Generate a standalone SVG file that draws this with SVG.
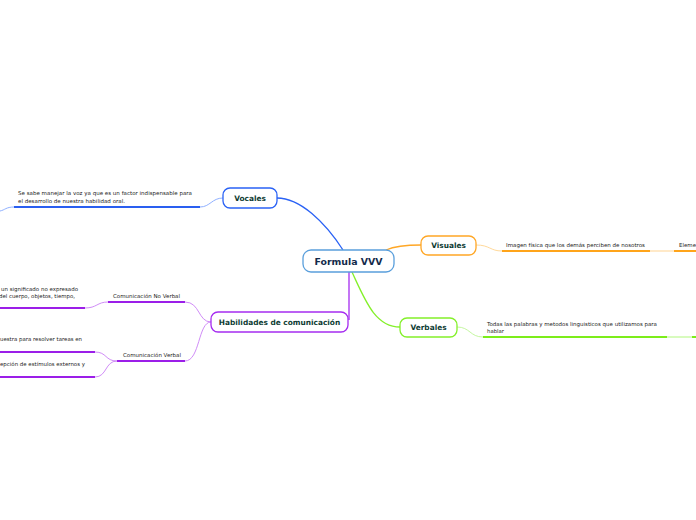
<svg xmlns="http://www.w3.org/2000/svg" width="696" height="520" viewBox="0 0 696 520">
<style>
.bg{fill:#ffffff}
.node{fill:#ffffff;stroke-width:1.3}
.lbl{font-family:"DejaVu Sans",Verdana,sans-serif;font-weight:bold;font-size:7.4px;fill:#0d3b33;text-anchor:middle}
.main{font-family:"DejaVu Sans",Verdana,sans-serif;font-weight:bold;font-size:9.4px;fill:#132a4a;text-anchor:middle}
.t{font-family:"DejaVu Sans",Verdana,sans-serif;font-size:5.4px;fill:#222222}
.c{fill:none;stroke-width:1.3}
.thin{fill:none;stroke-width:1}
.u{fill:none;stroke-width:2}
</style>
<rect class="bg" x="0" y="0" width="696" height="520"/>
<g id="connectors">
  <path class="c" stroke="#2a62f5" d="M343,250 C325,222 300,198 277,198"/>
  <path class="c" stroke="#ffa726" d="M386,250 C395,246 405,245 421,245"/>
  <path class="c" stroke="#84f02a" d="M352,272 C365,300 375,327 400,327"/>
  <path class="c" stroke="#a52cf0" d="M349,272 L349,320"/>
  <!-- Vocales -->
  <path class="thin" stroke="#8fb0ff" d="M223,198 C212,198 210,207 200,207"/>
  <path class="u" stroke="#2a5ff0" d="M200,207 L14,207"/>
  <path class="thin" stroke="#8fb0ff" d="M14,207 C6,207 5,210 0,211"/>
  <!-- Visuales -->
  <path class="thin" stroke="#ffd99a" d="M476,245 C490,245 490,251 502,251"/>
  <path class="u" stroke="#ffa41a" d="M502,251 L650,251"/>
  <path class="u" stroke="#ffe9c8" d="M650,251 L674,251"/>
  <path class="u" stroke="#ffa41a" d="M674,251 L696,251"/>
  <!-- Verbales -->
  <path class="thin" stroke="#c4f7a0" d="M457,327 C470,327 470,337 483,337"/>
  <path class="u" stroke="#7ced1a" d="M483,337 L667,337"/>
  <path class="u" stroke="#d8fbbe" d="M667,337 L692,337"/>
  <path class="u" stroke="#7ced1a" d="M692,337 L696,337"/>
  <!-- Habilidades -->
  <path class="thin" stroke="#d08cf7" d="M211,322 C198,322 200,302 185,302"/>
  <path class="thin" stroke="#d08cf7" d="M211,322 C198,322 200,361 185,361"/>
  <path class="u" stroke="#9b1ee8" d="M108,302 L185,302"/>
  <path class="u" stroke="#9b1ee8" d="M117,361 L185,361"/>
  <path class="thin" stroke="#d08cf7" d="M108,302 C97,302 97,308 85,308"/>
  <path class="u" stroke="#9b1ee8" d="M85,308 L0,308"/>
  <path class="thin" stroke="#d08cf7" d="M117,361 C105,361 107,352 95,352"/>
  <path class="thin" stroke="#d08cf7" d="M117,361 C105,361 107,377 95,377"/>
  <path class="u" stroke="#9b1ee8" d="M95,352 L0,352"/>
  <path class="u" stroke="#9b1ee8" d="M95,377 L0,377"/>
</g>
<g id="central">
  <rect class="node" x="303" y="250" width="91" height="22" rx="8" stroke="#5a9fdc" fill="#fbfdff"/>
  <text class="main" x="348.5" y="264.5">Formula VVV</text>
</g>
<g id="vocales">
  <rect class="node" x="223" y="188" width="54" height="20" rx="7" stroke="#2a62f5"/>
  <text class="lbl" x="250" y="200.8">Vocales</text>
</g>
<g id="vocales-text">
  <text class="t" x="18" y="195" textLength="174" lengthAdjust="spacingAndGlyphs">Se sabe manejar la voz ya que es un factor indispensable para</text>
  <text class="t" x="18" y="203" textLength="107" lengthAdjust="spacingAndGlyphs">el desarrollo de nuestra habilidad oral.</text>
</g>
<g id="visuales">
  <rect class="node" x="421" y="236" width="55" height="19" rx="7" stroke="#ffa726"/>
  <text class="lbl" x="448.5" y="248">Visuales</text>
</g>
<g id="visuales-text">
  <text class="t" x="506" y="247" textLength="139" lengthAdjust="spacingAndGlyphs">Imagen física que los demás perciben de nosotros</text>
  <text class="t" x="679" y="247" textLength="17" lengthAdjust="spacingAndGlyphs">Eleme</text>
</g>
<g id="verbales">
  <rect class="node" x="400" y="318" width="57" height="19" rx="7" stroke="#84f02a"/>
  <text class="lbl" x="428.5" y="330">Verbales</text>
</g>
<g id="verbales-text">
  <text class="t" x="487" y="326" textLength="170" lengthAdjust="spacingAndGlyphs">Todas las palabras y metodos linguisticos que utilizamos para</text>
  <text class="t" x="487" y="333" textLength="17" lengthAdjust="spacingAndGlyphs">hablar</text>
</g>
<g id="habilidades">
  <rect class="node" x="211" y="312" width="137" height="20" rx="7" stroke="#a52cf0"/>
  <text class="lbl" x="279.5" y="325">Habilidades de comunicación</text>
</g>
<g id="no-verbal">
  <text class="t" x="113" y="297.5" textLength="67" lengthAdjust="spacingAndGlyphs">Comunicación No Verbal</text>
  <text class="t" x="1" y="291" textLength="77" lengthAdjust="spacingAndGlyphs">un significado no expresado</text>
  <text class="t" x="-1" y="298" textLength="76" lengthAdjust="spacingAndGlyphs">del cuerpo, objetos, tiempo,</text>
</g>
<g id="verbal">
  <text class="t" x="123" y="357" textLength="58" lengthAdjust="spacingAndGlyphs">Comunicación Verbal</text>
  <text class="t" x="0" y="341" textLength="82" lengthAdjust="spacingAndGlyphs">uestra para resolver tareas en</text>
  <text class="t" x="0" y="366" textLength="85" lengthAdjust="spacingAndGlyphs">epción de estímulos externos y</text>
</g>
</svg>
